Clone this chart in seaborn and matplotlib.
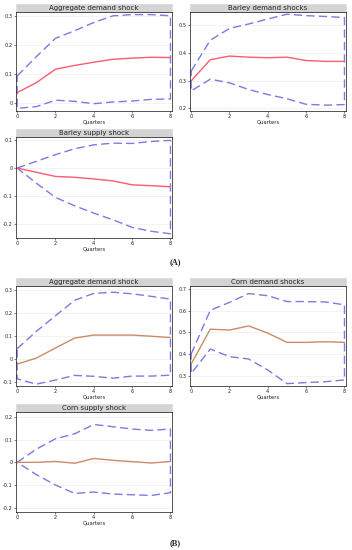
import numpy as np
import pandas as pd
import matplotlib
matplotlib.use("Agg")
import matplotlib.pyplot as plt
import seaborn as sns
from matplotlib.patches import Rectangle

# =============================================================================
# Data
# =============================================================================

quarters = [0, 1, 2, 3, 4, 5, 6, 7, 8]

titles = [
    "Aggregate demand shock", "Barley demand shocks", "Barley supply shock",
    "Aggregate demand shock", "Corn demand shocks", "Corn supply shock",
]

irf = [
    [0.037, 0.071, 0.117, 0.130, 0.141, 0.151, 0.155, 0.158, 0.157],
    [0.299, 0.375, 0.388, 0.384, 0.382, 0.384, 0.372, 0.369, 0.369],
    [0.000, -0.015, -0.030, -0.033, -0.039, -0.046, -0.060, -0.063, -0.067],
    [-0.022, 0.004, 0.048, 0.091, 0.104, 0.104, 0.104, 0.099, 0.093],
    [0.354, 0.515, 0.511, 0.530, 0.497, 0.454, 0.454, 0.457, 0.454],
    [0.000, 0.000, 0.004, -0.004, 0.017, 0.009, 0.003, -0.003, 0.004],
]

upper = [
    [0.094, 0.160, 0.223, 0.249, 0.277, 0.300, 0.304, 0.304, 0.300],
    [0.334, 0.445, 0.487, 0.503, 0.521, 0.538, 0.533, 0.530, 0.526],
    [0.000, 0.024, 0.048, 0.069, 0.083, 0.089, 0.088, 0.095, 0.099],
    [0.045, 0.120, 0.188, 0.255, 0.285, 0.290, 0.283, 0.272, 0.260],
    [0.400, 0.603, 0.639, 0.680, 0.670, 0.643, 0.643, 0.641, 0.628],
    [0.000, 0.058, 0.104, 0.126, 0.167, 0.157, 0.147, 0.141, 0.147],
]

lower = [
    [-0.017, -0.011, 0.011, 0.007, -0.001, 0.005, 0.008, 0.014, 0.015],
    [0.263, 0.305, 0.292, 0.268, 0.250, 0.235, 0.215, 0.212, 0.214],
    [0.000, -0.054, -0.105, -0.135, -0.161, -0.185, -0.212, -0.226, -0.235],
    [-0.086, -0.109, -0.091, -0.071, -0.075, -0.083, -0.074, -0.074, -0.070],
    [0.310, 0.423, 0.388, 0.377, 0.326, 0.263, 0.268, 0.272, 0.280],
    [0.000, -0.054, -0.100, -0.137, -0.131, -0.140, -0.143, -0.146, -0.134],
]

y_ticks = [
    [0, 0.1, 0.2, 0.3],
    [0.2, 0.3, 0.4, 0.5],
    [-0.2, -0.1, 0, 0.1],
    [-0.1, 0, 0.1, 0.2, 0.3],
    [0.3, 0.4, 0.5, 0.6, 0.7],
    [-0.2, -0.1, 0, 0.1, 0.2],
]

y_tick_labels = [
    ["0", "0.1", "0.2", "0.3"],
    ["0.2", "0.3", "0.4", "0.5"],
    ["-0.2", "-0.1", "0", "0.1"],
    ["-0.1", "0", "0.1", "0.2", "0.3"],
    ["0.3", "0.4", "0.5", "0.6", "0.7"],
    ["-0.2", "-0.1", "0", "0.1", "0.2"],
]

x_ticks = [0, 2, 4, 6, 8]

# =============================================================================
# Layout / style
# =============================================================================

W, H = 352, 550

# (left, top, right, bottom) of each plot area in pixels
boxes = [
    (16, 12, 172, 111),
    (190, 12, 346, 111),
    (16, 137, 172, 238),
    (16, 286, 172, 386),
    (190, 286, 346, 386),
    (16, 412, 172, 512),
]

y_limits = [
    (-0.026, 0.313),
    (0.191, 0.546),
    (-0.250, 0.111),
    (-0.117, 0.317),
    (0.252, 0.715),
    (-0.219, 0.222),
]

line_colors = ["#ff5a6e"] * 3 + ["#c98c6a"] * 3
ci_color = "#7b7be0"

sns.set_theme(style="white")
plt.rcParams["font.family"] = ["DejaVu Sans"]

fig = plt.figure(figsize=(W / 100, H / 100), dpi=100)

for i in range(6):

    l, t, r, b = boxes[i]
    ax = fig.add_axes([l / W, 1 - b / H, (r - l) / W, (b - t) / H])

    # Confidence band drawn as a closed dashed outline
    band_x = quarters + quarters[::-1] + [quarters[0]]
    band_y = upper[i] + lower[i][::-1] + [upper[i][0]]
    sns.lineplot(
        x=band_x, y=band_y, sort=False, estimator=None, ax=ax,
        color=ci_color, linewidth=1.0,
    )
    ax.lines[-1].set_linestyle((0, (6, 3)))

    sns.lineplot(
        x=quarters, y=irf[i], sort=False, estimator=None, ax=ax,
        color=line_colors[i], linewidth=1.0,
    )

    ax.set_xlim(-0.06, 8.08)
    ax.set_ylim(*y_limits[i])
    ax.set_xticks(x_ticks)
    ax.set_xticklabels([str(v) for v in x_ticks])
    ax.set_yticks(y_ticks[i])
    ax.set_yticklabels(y_tick_labels[i])

    ax.tick_params(
        axis="both", labelsize=3.6, length=1.5, width=0.4,
        pad=1, colors="#222222", direction="out",
        left=True, bottom=True,
    )
    ax.grid(axis="y", color="#eeeeee", linewidth=0.5)
    ax.set_axisbelow(True)

    for spine in ax.spines.values():
        spine.set_color("#111111")
        spine.set_linewidth(0.5)

    ax.set_xlabel("Quarters", fontsize=3.8, labelpad=0, color="#222222")
    ax.set_ylabel("")

    # Title strip
    strip_h = 8.5 / (b - t)
    ax.add_patch(Rectangle(
        (0, 1), 1, strip_h, transform=ax.transAxes,
        facecolor="#d4d4d4", edgecolor="#d4d4d4", linewidth=0.4,
        clip_on=False,
    ))
    ax.text(
        0.5, 1 + strip_h / 2, titles[i], transform=ax.transAxes,
        ha="center", va="center", fontsize=5, color="#222222",
    )

fig.text(175 / W, 1 - 262 / H, "(A)", ha="center", va="center",
         fontsize=6, fontweight="bold", family="Liberation Serif")
fig.text(175 / W, 1 - 543 / H, "(B)", ha="center", va="center",
         fontsize=6, fontweight="bold", family="Liberation Serif")

fig.savefig("out.png", dpi=100)
